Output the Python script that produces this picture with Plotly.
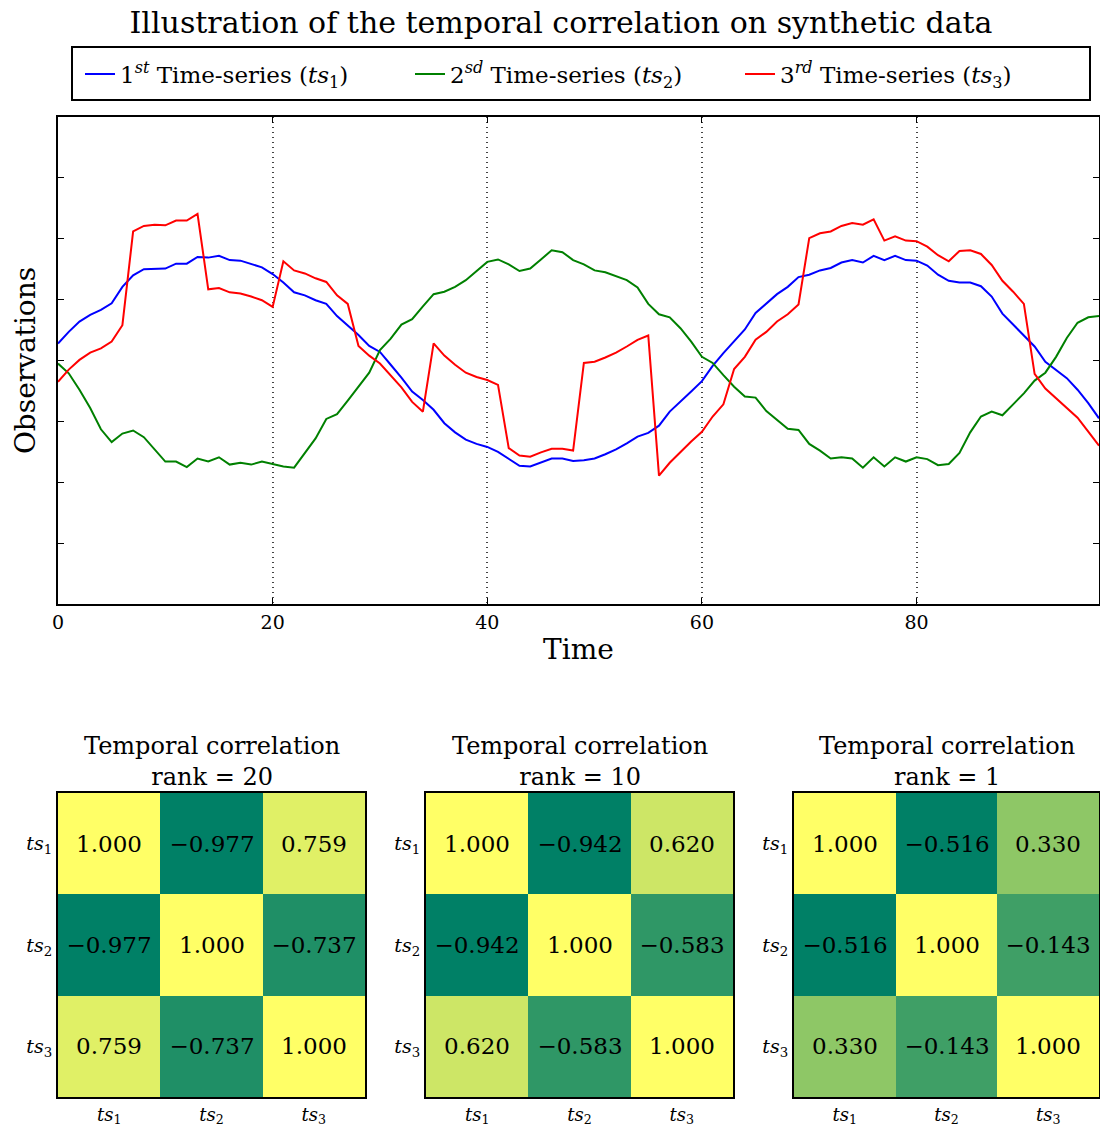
import plotly.graph_objects as go

# ---------------- data ----------------
time = list(range(98))

ts1 = [0.28, 0.47, 0.64, 0.75, 0.83, 0.94, 1.21, 1.40, 1.50, 1.51,
       1.51, 1.59, 1.59, 1.70, 1.69, 1.72, 1.65, 1.64, 1.58, 1.53,
       1.42, 1.28, 1.12, 1.07, 0.99, 0.93, 0.73, 0.58, 0.42, 0.24,
       0.14, -0.07, -0.28, -0.51, -0.65, -0.81, -1.03, -1.18, -1.30, -1.37,
       -1.42, -1.50, -1.61, -1.73, -1.74, -1.68, -1.61, -1.61, -1.65, -1.64,
       -1.61, -1.54, -1.46, -1.36, -1.25, -1.19, -1.07, -0.84, -0.68, -0.51,
       -0.34, -0.09, 0.12, 0.31, 0.51, 0.78, 0.93, 1.09, 1.21, 1.37,
       1.41, 1.48, 1.52, 1.61, 1.65, 1.61, 1.72, 1.65, 1.72, 1.65,
       1.64, 1.56, 1.41, 1.31, 1.28, 1.28, 1.22, 1.05, 0.77, 0.59,
       0.40, 0.23, -0.02, -0.16, -0.29, -0.48, -0.70, -0.95]

ts2 = [-0.05, -0.21, -0.48, -0.78, -1.13, -1.34, -1.20, -1.15, -1.26, -1.46,
       -1.66, -1.66, -1.75, -1.61, -1.66, -1.59, -1.71, -1.68, -1.71, -1.66,
       -1.70, -1.74, -1.76, -1.52, -1.28, -0.96, -0.88, -0.66, -0.43, -0.20,
       0.17, 0.36, 0.59, 0.68, 0.89, 1.09, 1.13, 1.21, 1.32, 1.47,
       1.62, 1.66, 1.58, 1.47, 1.51, 1.66, 1.81, 1.78, 1.65, 1.58,
       1.48, 1.45, 1.39, 1.32, 1.20, 0.93, 0.76, 0.71, 0.53, 0.31,
       0.06, -0.04, -0.24, -0.43, -0.59, -0.61, -0.83, -0.97, -1.12, -1.14,
       -1.37, -1.48, -1.61, -1.59, -1.61, -1.76, -1.59, -1.74, -1.59, -1.66,
       -1.59, -1.62, -1.72, -1.70, -1.52, -1.18, -0.92, -0.84, -0.90, -0.72,
       -0.54, -0.33, -0.20, 0.06, 0.37, 0.62, 0.71, 0.73]

ts3 = [-0.35, -0.15, 0.01, 0.13, 0.20, 0.31, 0.58, 2.12, 2.21, 2.23,
       2.22, 2.30, 2.30, 2.41, 1.17, 1.19, 1.12, 1.10, 1.05, 0.99,
       0.88, 1.63, 1.48, 1.43, 1.35, 1.29, 1.07, 0.93, 0.24, 0.08,
       -0.05, -0.24, -0.44, -0.68, -0.84, 0.28, 0.08, -0.07, -0.20, -0.27,
       -0.32, -0.40, -1.44, -1.56, -1.58, -1.51, -1.45, -1.45, -1.48, -0.04,
       -0.02, 0.05, 0.13, 0.23, 0.34, 0.41, -1.89, -1.68, -1.50, -1.33,
       -1.17, -0.92, -0.72, -0.14, 0.06, 0.34, 0.47, 0.64, 0.76, 0.92,
       2.01, 2.09, 2.12, 2.21, 2.26, 2.23, 2.32, 1.97, 2.04, 1.97,
       1.96, 1.87, 1.73, 1.63, 1.80, 1.81, 1.75, 1.57, 1.31, 1.13,
       0.93, -0.22, -0.46, -0.62, -0.77, -0.94, -1.17, -1.40]

series_names = ["1<sup><i>st</i></sup> Time-series (<i>ts</i><sub>1</sub>)",
                "2<sup><i>sd</i></sup> Time-series (<i>ts</i><sub>2</sub>)",
                "3<sup><i>rd</i></sup> Time-series (<i>ts</i><sub>3</sub>)"]
series_colors = ["#0000FF", "#008000", "#FF0000"]

x_ticks = [0, 20, 40, 60, 80]
y_ticks = [-3, -2, -1, 0, 1, 2, 3]

ts_labels = ["<i>ts</i><sub>1</sub>", "<i>ts</i><sub>2</sub>", "<i>ts</i><sub>3</sub>"]
ranks = [20, 10, 1]
corr_rank20 = [[1.000, -0.977, 0.759],
               [-0.977, 1.000, -0.737],
               [0.759, -0.737, 1.000]]
corr_rank10 = [[1.000, -0.942, 0.620],
               [-0.942, 1.000, -0.583],
               [0.620, -0.583, 1.000]]
corr_rank1 = [[1.000, -0.516, 0.330],
              [-0.516, 1.000, -0.143],
              [0.330, -0.143, 1.000]]
corr_mats = [corr_rank20, corr_rank10, corr_rank1]

# ---------------- figure ----------------
W, H = 1100, 1126
SERIF = "DejaVu Serif"
fig = go.Figure()

for vals, name, col in zip([ts1, ts2, ts3], series_names, series_colors):
    fig.add_trace(go.Scatter(x=time, y=vals, mode="lines", name=name,
                             line=dict(color=col, width=2),
                             xaxis="x", yaxis="y", showlegend=True))

summer = [[0.0, "rgb(0,128,102)"], [1.0, "rgb(255,255,102)"]]
hx_domains = [[58 / W, 365 / W], [426 / W, 733 / W], [794 / W, 1099 / W]]
hy_domain = [1 - 1097 / H, 1 - 793 / H]

for i, (mat, rank) in enumerate(zip(corr_mats, ranks)):
    txt = [[f"{v:.3f}".replace("-", "\u2212") for v in row] for row in mat]
    fig.add_trace(go.Heatmap(z=mat, x=ts_labels, y=ts_labels, text=txt,
                             texttemplate="%{text}",
                             textfont=dict(family=SERIF, size=23, color="black"),
                             colorscale=summer, showscale=False,
                             xaxis=f"x{i+2}", yaxis=f"y{i+2}", hoverinfo="skip"))

layout = dict(
    width=W, height=H,
    margin=dict(l=0, r=0, t=0, b=0),
    paper_bgcolor="white", plot_bgcolor="white",
    font=dict(family=SERIF, color="black"),
    showlegend=True,
    title=dict(text="Illustration of the temporal correlation on synthetic data",
               x=561 / W, xanchor="center", y=1 - 22 / H, yanchor="middle",
               font=dict(family=SERIF, size=30, color="black")),
    legend=dict(orientation="h", x=80 / W, y=1 - 74 / H, xanchor="left", yanchor="middle",
                borderwidth=0, bgcolor="rgba(0,0,0,0)",
                font=dict(family=SERIF, size=23, color="black"),
                entrywidth=285, entrywidthmode="pixels", itemwidth=30, tracegroupgap=0),
    xaxis=dict(domain=[58 / W, 1099 / W], range=[0, 97], anchor="y",
               tickvals=x_ticks, ticks="inside", ticklen=6, tickcolor="black",
               showline=True, linecolor="black", linewidth=2, mirror="ticks",
               showgrid=True, gridcolor="#444444", griddash="1px,4px", gridwidth=1.5,
               zeroline=False, tickfont=dict(family=SERIF, size=19),
               title=dict(text="Time", font=dict(family=SERIF, size=28), standoff=8),
               automargin=False),
    yaxis=dict(domain=[1 - 604 / H, 1 - 117 / H], range=[-4, 4], anchor="x",
               tickvals=y_ticks, showticklabels=False, ticks="inside", ticklen=6,
               tickcolor="black", showline=True, linecolor="black", linewidth=2,
               mirror="ticks", showgrid=False, zeroline=False,
               title=dict(text="Observations", font=dict(family=SERIF, size=28), standoff=12),
               automargin=False),
    shapes=[dict(type="rect", xref="paper", yref="paper",
                 x0=72 / W, x1=1090 / W, y0=1 - 100 / H, y1=1 - 47 / H,
                 line=dict(color="black", width=2), fillcolor="rgba(0,0,0,0)", layer="below")],
)

for i in range(3):
    layout[f"xaxis{i+2}"] = dict(domain=hx_domains[i], anchor=f"y{i+2}",
                                 showline=True, linecolor="black", linewidth=2, mirror=True,
                                 ticks="", showgrid=False, zeroline=False,
                                 tickfont=dict(family=SERIF, size=18),
                                 automargin=False)
    layout[f"yaxis{i+2}"] = dict(domain=hy_domain, anchor=f"x{i+2}", autorange="reversed",
                                 showline=True, linecolor="black", linewidth=2, mirror=True,
                                 ticks="", showgrid=False, zeroline=False,
                                 tickfont=dict(family=SERIF, size=19),
                                 automargin=False)

fig.update_layout(**layout)

for i, rank in enumerate(ranks):
    cx = (hx_domains[i][0] + hx_domains[i][1]) / 2
    fig.add_annotation(text=f"Temporal correlation<br>rank = {rank}",
                       x=cx, y=1 - 761 / H, xref="paper", yref="paper",
                       xanchor="center", yanchor="middle", showarrow=False,
                       font=dict(family=SERIF, size=24, color="black"))

fig.write_html("out.html")
